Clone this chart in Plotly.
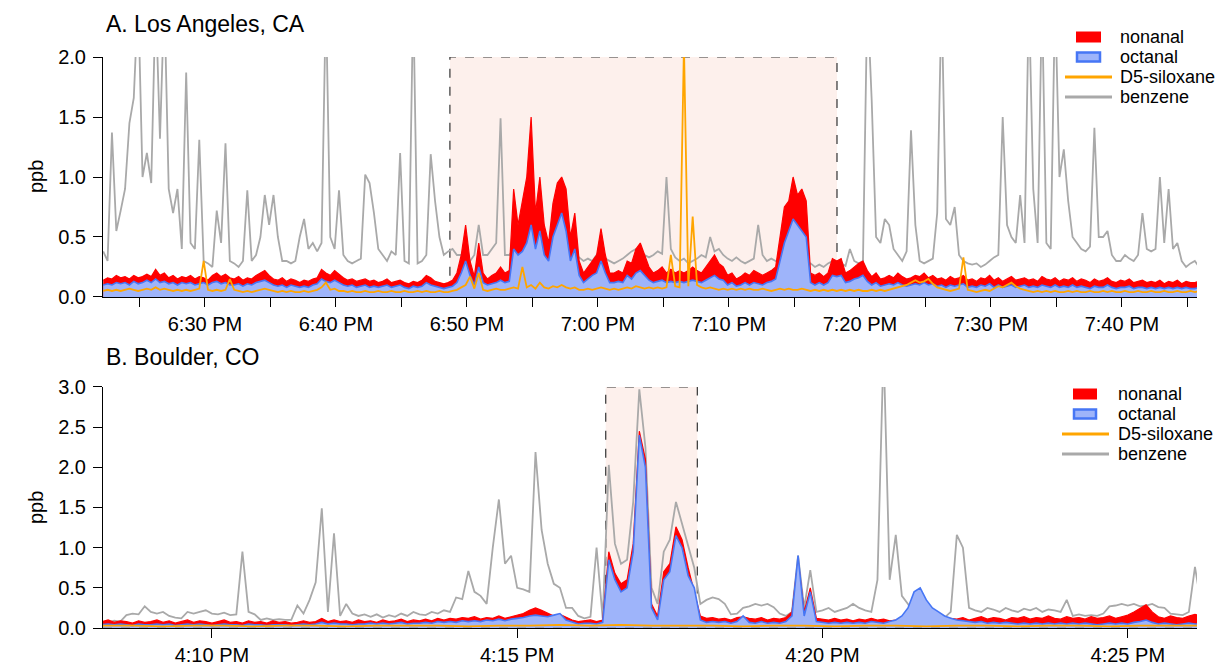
import pandas as pd
import plotly.graph_objects as go

# ---------------- Panel A : Los Angeles (20 s samples from 18:22:14) ----------------
a_start = "2019-06-01 18:22:14"
a_benzene = [
    0.38, 0.30, 1.37, 0.55, 0.72, 0.90, 1.45, 1.66, 2.50, 1.00,
    1.20, 0.95, 2.50, 1.32, 2.50, 0.90, 0.70, 0.90, 0.40, 1.87,
    0.45, 0.40, 1.31, 0.30, 0.28, 0.25, 0.72, 0.45, 1.28, 0.30,
    0.28, 0.25, 0.30, 0.89, 0.30, 0.35, 0.50, 0.85, 0.60, 0.85,
    0.50, 0.30, 0.30, 0.28, 0.30, 0.50, 0.65, 0.40, 0.45, 0.38,
    0.45, 2.50, 0.50, 0.40, 0.89, 0.35, 0.30, 0.28, 0.30, 0.32,
    1.02, 0.95, 0.70, 0.40, 0.35, 0.30, 0.38, 0.35, 1.20, 0.30,
    0.28, 2.50, 0.28, 0.30, 0.35, 1.19, 0.80, 0.50, 0.35, 0.38,
    0.40, 0.35, 0.35, 0.30, 0.30, 0.35, 0.60, 0.35, 0.35, 0.40,
    0.45, 1.49, 0.35, 0.35, 0.40, 0.40, 0.45, 0.40, 0.45, 0.40,
    0.42, 0.40, 0.38, 0.40, 0.45, 0.40, 0.38, 0.35, 0.35, 0.33,
    0.30, 0.32, 0.30, 0.35, 0.38, 0.32, 0.30, 0.28, 0.30, 0.32,
    0.35, 0.38, 0.40, 0.38, 0.35, 0.33, 0.35, 0.38, 0.36, 1.00,
    0.40, 0.33, 0.30, 0.32, 0.28, 0.30, 0.32, 0.35, 0.33, 0.50,
    0.38, 0.40, 0.35, 0.32, 0.30, 0.33, 0.30, 0.28, 0.30, 0.32,
    0.60, 0.35, 0.30, 0.32, 0.30, 0.28, 0.30, 0.32, 0.30, 0.28,
    0.27, 0.25, 0.28, 0.25, 0.27, 0.25, 0.28, 0.30, 0.27, 0.28,
    0.26, 0.40, 0.30, 0.28, 0.30, 2.50, 1.64, 0.50, 0.45, 0.65,
    0.60, 0.40, 0.35, 0.30, 0.38, 1.39, 0.60, 0.30, 0.28, 0.30,
    0.32, 0.70, 2.50, 0.65, 0.60, 0.75, 0.35, 0.30, 0.28, 0.27,
    0.28, 0.25, 0.27, 0.30, 0.33, 0.35, 1.50, 0.60, 0.50, 0.45,
    0.85, 0.45, 2.50, 0.90, 0.45, 2.50, 0.45, 0.40, 2.50, 1.00,
    1.23, 0.80, 0.50, 0.45, 0.40, 0.38, 0.42, 1.41, 0.50, 0.50,
    0.55, 0.35, 0.30, 0.30, 0.35, 0.32, 0.30, 0.35, 0.70, 0.40,
    0.38, 0.40, 1.00, 0.45, 0.90, 0.40, 0.45, 0.30, 0.25, 0.28,
    0.30, 0.25,
]
a_nonanal = [
    0.14, 0.16, 0.15, 0.18, 0.16, 0.17, 0.15, 0.18, 0.16, 0.17,
    0.19, 0.17, 0.23, 0.18, 0.20, 0.16, 0.18, 0.15, 0.17, 0.16,
    0.18, 0.15, 0.17, 0.16, 0.14, 0.18, 0.20, 0.17, 0.19, 0.16,
    0.15, 0.17, 0.14, 0.16, 0.15, 0.18, 0.20, 0.22, 0.18, 0.15,
    0.14, 0.16, 0.13, 0.15, 0.14, 0.12, 0.14, 0.13, 0.15, 0.16,
    0.23, 0.20, 0.18, 0.22, 0.19, 0.16, 0.14, 0.15, 0.13, 0.14,
    0.15, 0.13, 0.14, 0.12, 0.13, 0.15, 0.12, 0.13, 0.14, 0.12,
    0.11, 0.13, 0.12, 0.14, 0.18, 0.16, 0.13, 0.12, 0.11, 0.12,
    0.14, 0.20, 0.35, 0.60, 0.30, 0.17, 0.45, 0.20, 0.15, 0.18,
    0.20, 0.25, 0.20, 0.22, 0.90, 0.60, 0.80, 1.00, 1.50, 0.70,
    1.00, 0.60, 0.45, 0.78, 0.95, 1.00, 0.90, 0.50, 0.70, 0.30,
    0.20, 0.25, 0.30, 0.35, 0.57, 0.35, 0.20, 0.20, 0.22, 0.20,
    0.30, 0.28, 0.40, 0.45, 0.35, 0.25, 0.20, 0.22, 0.25, 0.20,
    0.23, 0.20, 0.22, 0.20, 0.22, 0.25, 0.22, 0.20, 0.25, 0.30,
    0.35, 0.28, 0.25, 0.18, 0.20, 0.15, 0.17, 0.20, 0.18, 0.22,
    0.20, 0.18, 0.20, 0.22, 0.25, 0.50, 0.75, 0.80, 1.00, 0.85,
    0.90, 0.80, 0.20, 0.18, 0.20, 0.17, 0.20, 0.32, 0.30, 0.32,
    0.20, 0.22, 0.25, 0.28, 0.30, 0.22, 0.17, 0.20, 0.15, 0.16,
    0.18, 0.16, 0.20, 0.17, 0.15, 0.16, 0.18, 0.17, 0.20, 0.16,
    0.18, 0.15, 0.16, 0.14, 0.17, 0.15, 0.16, 0.18, 0.14, 0.15,
    0.13, 0.16, 0.15, 0.18, 0.14, 0.16, 0.13, 0.15, 0.17, 0.14,
    0.15, 0.16, 0.14, 0.15, 0.13, 0.17, 0.15, 0.14, 0.16, 0.13,
    0.15, 0.14, 0.16, 0.13, 0.15, 0.14, 0.12, 0.15, 0.13, 0.14,
    0.16, 0.13, 0.12, 0.14, 0.13, 0.15, 0.12, 0.13, 0.14, 0.12,
    0.13, 0.12, 0.14, 0.11, 0.13, 0.12, 0.14, 0.11, 0.13, 0.12,
    0.12, 0.13,
]
a_octanal = [
    0.10, 0.11, 0.10, 0.12, 0.11, 0.12, 0.10, 0.13, 0.11, 0.12,
    0.14, 0.12, 0.15, 0.12, 0.13, 0.11, 0.12, 0.10, 0.12, 0.11,
    0.12, 0.10, 0.11, 0.12, 0.10, 0.12, 0.13, 0.11, 0.12, 0.10,
    0.10, 0.11, 0.09, 0.11, 0.10, 0.12, 0.13, 0.14, 0.12, 0.10,
    0.09, 0.10, 0.08, 0.10, 0.09, 0.08, 0.09, 0.08, 0.10, 0.11,
    0.15, 0.13, 0.12, 0.14, 0.12, 0.10, 0.09, 0.10, 0.08, 0.09,
    0.10, 0.08, 0.09, 0.08, 0.09, 0.10, 0.08, 0.09, 0.10, 0.08,
    0.07, 0.09, 0.08, 0.09, 0.12, 0.10, 0.09, 0.08, 0.07, 0.08,
    0.09, 0.12, 0.20, 0.30, 0.18, 0.10, 0.25, 0.12, 0.10, 0.11,
    0.12, 0.14, 0.12, 0.13, 0.40, 0.35, 0.38, 0.45, 0.60, 0.40,
    0.55, 0.35, 0.30, 0.50, 0.60, 0.70, 0.55, 0.30, 0.40, 0.18,
    0.12, 0.15, 0.18, 0.20, 0.30, 0.20, 0.12, 0.12, 0.13, 0.12,
    0.18, 0.15, 0.20, 0.22, 0.18, 0.14, 0.12, 0.13, 0.14, 0.12,
    0.13, 0.12, 0.13, 0.12, 0.13, 0.14, 0.13, 0.12, 0.14, 0.16,
    0.18, 0.15, 0.14, 0.10, 0.12, 0.09, 0.10, 0.12, 0.10, 0.12,
    0.11, 0.10, 0.12, 0.13, 0.15, 0.30, 0.45, 0.55, 0.65, 0.60,
    0.55, 0.50, 0.12, 0.10, 0.12, 0.10, 0.12, 0.18, 0.17, 0.18,
    0.12, 0.13, 0.15, 0.16, 0.18, 0.13, 0.10, 0.12, 0.09, 0.10,
    0.11, 0.10, 0.12, 0.10, 0.09, 0.10, 0.11, 0.10, 0.12, 0.10,
    0.11, 0.09, 0.10, 0.08, 0.10, 0.09, 0.10, 0.11, 0.08, 0.09,
    0.08, 0.10, 0.09, 0.11, 0.08, 0.10, 0.08, 0.09, 0.10, 0.08,
    0.09, 0.10, 0.08, 0.09, 0.08, 0.10, 0.09, 0.08, 0.10, 0.08,
    0.09, 0.08, 0.10, 0.08, 0.09, 0.08, 0.07, 0.09, 0.08, 0.08,
    0.10, 0.08, 0.07, 0.08, 0.08, 0.09, 0.07, 0.08, 0.08, 0.07,
    0.08, 0.07, 0.08, 0.07, 0.08, 0.07, 0.08, 0.07, 0.08, 0.07,
    0.07, 0.08,
]
a_siloxane = [
    0.05, 0.06, 0.05, 0.06, 0.05, 0.06, 0.07, 0.06, 0.05, 0.06,
    0.07, 0.06, 0.08, 0.06, 0.07, 0.06, 0.05, 0.06, 0.05, 0.06,
    0.05, 0.06, 0.07, 0.30, 0.06, 0.05, 0.06, 0.05, 0.06, 0.15,
    0.06, 0.05, 0.04, 0.05, 0.04, 0.05, 0.06, 0.07, 0.06, 0.05,
    0.04, 0.05, 0.04, 0.05, 0.04, 0.04, 0.05, 0.04, 0.05, 0.06,
    0.08, 0.12, 0.06, 0.07, 0.05, 0.05, 0.04, 0.05, 0.04, 0.04,
    0.05, 0.04, 0.04, 0.05, 0.04, 0.04, 0.05, 0.04, 0.04, 0.05,
    0.04, 0.04, 0.05, 0.04, 0.05, 0.04, 0.04, 0.05, 0.04, 0.04,
    0.05, 0.06, 0.08, 0.10, 0.17, 0.07, 0.20, 0.06, 0.05, 0.06,
    0.07, 0.06, 0.06, 0.07, 0.08, 0.07, 0.25, 0.08, 0.10, 0.07,
    0.12, 0.08, 0.07, 0.09, 0.08, 0.10, 0.08, 0.07, 0.08, 0.06,
    0.06, 0.07, 0.06, 0.07, 0.08, 0.07, 0.06, 0.07, 0.06, 0.07,
    0.08, 0.07, 0.09, 0.08, 0.07, 0.08, 0.07, 0.08, 0.07, 0.08,
    0.35, 0.09, 0.08, 2.10, 0.09, 0.67, 0.10, 0.08, 0.07, 0.08,
    0.07, 0.06, 0.07, 0.06, 0.07, 0.06, 0.07, 0.06, 0.07, 0.06,
    0.06, 0.07, 0.06, 0.05, 0.06, 0.07, 0.06, 0.07, 0.06, 0.06,
    0.07, 0.06, 0.05, 0.06, 0.05, 0.06, 0.05, 0.06, 0.05, 0.06,
    0.05, 0.06, 0.05, 0.06, 0.05, 0.05, 0.06, 0.05, 0.06, 0.05,
    0.06, 0.07, 0.08, 0.09, 0.10, 0.12, 0.14, 0.12, 0.13, 0.15,
    0.11, 0.08, 0.07, 0.06, 0.05, 0.06, 0.07, 0.33, 0.06, 0.05,
    0.04, 0.05, 0.06, 0.05, 0.07, 0.09, 0.08, 0.10, 0.12, 0.09,
    0.07, 0.06, 0.05, 0.04, 0.05, 0.04, 0.05, 0.04, 0.05, 0.04,
    0.04, 0.05, 0.04, 0.05, 0.04, 0.04, 0.05, 0.04, 0.04, 0.05,
    0.04, 0.05, 0.04, 0.04, 0.05, 0.04, 0.04, 0.05, 0.04, 0.04,
    0.05, 0.04, 0.04, 0.05, 0.04, 0.04, 0.05, 0.04, 0.04, 0.05,
    0.04, 0.05,
]

# ---------------- Panel B : Boulder (6 s samples from 16:08:12) ----------------
b_start = "2019-06-01 16:08:12"
b_benzene = [
    0.08, 0.07, 0.09, 0.08, 0.16, 0.18, 0.17, 0.27, 0.20, 0.18,
    0.20, 0.15, 0.13, 0.12, 0.20, 0.18, 0.20, 0.22, 0.18, 0.17,
    0.19, 0.16, 0.17, 0.95, 0.20, 0.17, 0.10, 0.12, 0.10, 0.11,
    0.10, 0.10, 0.28, 0.18, 0.35, 0.57, 1.49, 0.20, 1.18, 0.15,
    0.30, 0.18, 0.15, 0.17, 0.14, 0.17, 0.13, 0.16, 0.14, 0.18,
    0.15, 0.20, 0.17, 0.16, 0.20, 0.18, 0.22, 0.20, 0.38, 0.36,
    0.71, 0.45, 0.40, 0.30, 1.00, 1.60, 0.80, 0.90, 0.50, 0.48,
    0.45, 2.19, 1.22, 0.80, 0.55, 0.50, 0.25, 0.25, 0.15, 0.12,
    0.14, 1.00, 0.12, 2.03, 1.05, 0.80, 0.85, 1.57, 2.97, 2.25,
    0.50, 0.30, 0.95, 1.10, 1.57, 1.30, 1.00, 0.75, 0.30, 0.35,
    0.38, 0.36, 0.30, 0.17, 0.18, 0.25, 0.27, 0.30, 0.28, 0.30,
    0.26, 0.18, 0.15, 0.20, 0.90, 0.25, 0.72, 0.20, 0.22, 0.25,
    0.20, 0.23, 0.25, 0.30, 0.25, 0.22, 0.20, 0.60, 3.50, 0.60,
    1.16, 0.40, 0.30, 0.15, 0.13, 0.14, 0.12, 0.15, 0.13, 0.20,
    1.16, 1.00, 0.25, 0.22, 0.20, 0.25, 0.23, 0.20, 0.25, 0.22,
    0.20, 0.24, 0.22, 0.25, 0.20, 0.23, 0.22, 0.20, 0.35, 0.15,
    0.17, 0.15, 0.16, 0.15, 0.18, 0.27, 0.28, 0.30, 0.28, 0.30,
    0.27, 0.28, 0.30, 0.26, 0.25, 0.18, 0.17, 0.16, 0.20, 0.76,
    0.30,
]
b_nonanal = [
    0.08, 0.10, 0.07, 0.09, 0.08, 0.06, 0.09, 0.07, 0.08, 0.10,
    0.07, 0.09, 0.06, 0.08, 0.10, 0.07, 0.09, 0.08, 0.06, 0.08,
    0.10, 0.07, 0.08, 0.06, 0.09, 0.07, 0.08, 0.06, 0.09, 0.07,
    0.08, 0.06, 0.07, 0.09, 0.07, 0.08, 0.12, 0.08, 0.10, 0.08,
    0.09, 0.07, 0.10, 0.08, 0.09, 0.07, 0.10, 0.08, 0.09, 0.11,
    0.08, 0.10, 0.09, 0.11, 0.09, 0.12, 0.10, 0.12, 0.11, 0.13,
    0.12, 0.14, 0.11, 0.13, 0.12, 0.15, 0.12, 0.14, 0.16, 0.18,
    0.22, 0.25, 0.22, 0.18, 0.15, 0.17, 0.13, 0.10, 0.08, 0.09,
    0.10, 0.08, 0.10, 0.95, 0.68, 0.55, 0.60, 1.05, 2.45, 2.10,
    0.30, 0.15, 0.70, 0.80, 1.26, 1.10, 0.75, 0.45, 0.15, 0.12,
    0.13, 0.11, 0.12, 0.10, 0.13, 0.14, 0.12, 0.11, 0.13, 0.10,
    0.12, 0.11, 0.13, 0.20, 0.85, 0.20, 0.50, 0.12, 0.11, 0.10,
    0.12, 0.10, 0.11, 0.09, 0.11, 0.10, 0.12, 0.10, 0.11, 0.09,
    0.10, 0.11, 0.10, 0.12, 0.11, 0.10, 0.12, 0.11, 0.10, 0.12,
    0.11, 0.13, 0.10, 0.12, 0.14, 0.11, 0.13, 0.12, 0.10, 0.13,
    0.12, 0.14, 0.11, 0.13, 0.12, 0.15, 0.12, 0.11, 0.14, 0.12,
    0.13, 0.11, 0.14, 0.12, 0.13, 0.15, 0.12, 0.14, 0.16, 0.20,
    0.25, 0.29, 0.20, 0.14, 0.12, 0.15, 0.13, 0.12, 0.15, 0.17,
    0.15,
]
b_octanal = [
    0.04, 0.05, 0.04, 0.05, 0.04, 0.03, 0.05, 0.04, 0.04, 0.05,
    0.04, 0.05, 0.03, 0.04, 0.05, 0.04, 0.05, 0.04, 0.03, 0.04,
    0.05, 0.04, 0.04, 0.03, 0.05, 0.04, 0.04, 0.03, 0.04, 0.04,
    0.04, 0.03, 0.04, 0.05, 0.04, 0.05, 0.07, 0.05, 0.06, 0.05,
    0.05, 0.04, 0.05, 0.05, 0.06, 0.05, 0.06, 0.05, 0.06, 0.07,
    0.05, 0.06, 0.06, 0.07, 0.06, 0.08, 0.07, 0.08, 0.07, 0.09,
    0.08, 0.09, 0.08, 0.10, 0.09, 0.11, 0.09, 0.11, 0.12, 0.13,
    0.15, 0.16, 0.15, 0.14, 0.16, 0.18, 0.10, 0.07, 0.05, 0.06,
    0.06, 0.05, 0.07, 0.85, 0.60, 0.45, 0.50, 0.95, 2.40, 2.00,
    0.25, 0.10, 0.60, 0.70, 1.15, 1.00, 0.65, 0.50, 0.10, 0.07,
    0.08, 0.07, 0.08, 0.06, 0.08, 0.15, 0.07, 0.06, 0.08, 0.06,
    0.07, 0.06, 0.08, 0.15, 0.90, 0.15, 0.45, 0.08, 0.07, 0.06,
    0.07, 0.06, 0.07, 0.06, 0.07, 0.06, 0.08, 0.07, 0.06, 0.08,
    0.10, 0.15, 0.25, 0.45, 0.50, 0.35, 0.25, 0.20, 0.15, 0.12,
    0.10, 0.09, 0.08, 0.07, 0.08, 0.06, 0.07, 0.06, 0.07, 0.06,
    0.05, 0.06, 0.05, 0.06, 0.05, 0.06, 0.05, 0.06, 0.05, 0.06,
    0.05, 0.06, 0.05, 0.04, 0.05, 0.06, 0.05, 0.06, 0.05, 0.07,
    0.08, 0.10, 0.07, 0.05, 0.06, 0.05, 0.04, 0.05, 0.06, 0.05,
    0.05,
]
# siloxane in Boulder sampled every 30 s
b_siloxane = [
    0.03, 0.03, 0.02, 0.03, 0.03, 0.02, 0.03, 0.03, 0.02, 0.03,
    0.03, 0.03, 0.02, 0.03, 0.03, 0.04, 0.03, 0.04, 0.03, 0.03,
    0.03, 0.02, 0.03, 0.03, 0.02, 0.03, 0.03, 0.02, 0.03, 0.03,
    0.02, 0.03, 0.03, 0.02, 0.03, 0.03, 0.03,
]

# ---------------- axes, ticks, highlighted windows ----------------
a_range = ["2019-06-01 18:22:13", "2019-06-01 19:45:44"]
b_range = ["2019-06-01 16:08:13", "2019-06-01 16:26:08"]
a_tickvals = ["2019-06-01 18:%02d:00" % m for m in range(25, 60, 5)] + \
             ["2019-06-01 19:%02d:00" % m for m in range(0, 50, 5)]
a_ticktext = ["", "6:30 PM", "", "6:40 PM", "", "6:50 PM", "",
              "7:00 PM", "", "7:10 PM", "", "7:20 PM", "", "7:30 PM", "", "7:40 PM", ""]
b_tickvals = ["2019-06-01 16:10:00", "2019-06-01 16:15:00",
              "2019-06-01 16:20:00", "2019-06-01 16:25:00"]
b_ticktext = ["4:10 PM", "4:15 PM", "4:20 PM", "4:25 PM"]
a_window = ["2019-06-01 18:48:42", "2019-06-01 19:18:15"]
b_window = ["2019-06-01 16:16:27", "2019-06-01 16:17:57"]
series_names = ["nonanal", "octanal", "D5-siloxane", "benzene"]

ta = pd.date_range(a_start, periods=len(a_benzene), freq="20s")
tb = pd.date_range(b_start, periods=len(b_benzene), freq="6s")
tbs = pd.date_range(b_start, periods=len(b_siloxane), freq="30s")

RED = "#ff0000"
BLUE_LINE = "rgb(70,118,245)"
BLUE_FILL = "rgb(158,180,250)"
ORANGE = "#ffa500"
GREY = "#a9a9a9"
FONT = "Liberation Sans, Arial, sans-serif"

# plot area in page pixels
PX0, PX1, PY0, PY1 = 103.0, 1197.0, 57.0, 628.0


def px(xp):
    return (xp - PX0) / (PX1 - PX0)


def py(yp):
    return (PY1 - yp) / (PY1 - PY0)


fig = go.Figure()


def add_panel(t, ts, benz, non, octa, silo, xa, ya):
    fig.add_trace(go.Scatter(x=t, y=benz, mode="lines", name=series_names[3],
                             line=dict(color=GREY, width=1.8), xaxis=xa, yaxis=ya))
    fig.add_trace(go.Scatter(x=t, y=non, mode="lines", name=series_names[0], fill="tozeroy",
                             fillcolor=RED, line=dict(color=RED, width=1.2),
                             xaxis=xa, yaxis=ya))
    fig.add_trace(go.Scatter(x=t, y=octa, mode="lines", name=series_names[1], fill="tozeroy",
                             fillcolor=BLUE_FILL, line=dict(color=BLUE_LINE, width=1.6),
                             xaxis=xa, yaxis=ya))
    fig.add_trace(go.Scatter(x=ts, y=silo, mode="lines", name=series_names[2],
                             line=dict(color=ORANGE, width=1.8), xaxis=xa, yaxis=ya))


add_panel(ta, ta, a_benzene, a_nonanal, a_octanal, a_siloxane, "x", "y")
add_panel(tb, tbs, b_benzene, b_nonanal, b_octanal, b_siloxane, "x2", "y2")

# highlighted windows
fig.add_shape(type="rect", xref="x", yref="y", x0=a_window[0], x1=a_window[1], y0=0, y1=2.0,
              fillcolor="rgb(253,240,236)", line=dict(color="#333333", width=1.2, dash="dash"),
              layer="below")
fig.add_shape(type="rect", xref="x2", yref="y2", x0=b_window[0], x1=b_window[1], y0=0, y1=3.0,
              fillcolor="rgb(253,240,236)", line=dict(color="#333333", width=1.2, dash="dash"),
              layer="below")
fig.add_shape(type="line", xref="x2 domain", yref="y2", x0=0, x1=1, y0=0, y1=0,
              line=dict(color="#888888", width=1.2, dash="dash"), layer="above")


# hand-placed legends (symbol geometry in page pixels)
def add_legend(sym_left, sym_right, rect_left, rect_right, text_x, rows):
    ys = rows
    fig.add_shape(type="rect", xref="paper", yref="paper",
                  x0=px(rect_left), x1=px(rect_right), y0=py(ys[0] + 5.5), y1=py(ys[0] - 5.5),
                  fillcolor=RED, line=dict(width=0))
    fig.add_shape(type="rect", xref="paper", yref="paper",
                  x0=px(rect_left + 1), x1=px(rect_right - 1), y0=py(ys[1] + 4.5), y1=py(ys[1] - 4.5),
                  fillcolor=BLUE_FILL, line=dict(color=BLUE_LINE, width=2.5))
    fig.add_shape(type="line", xref="paper", yref="paper",
                  x0=px(sym_left), x1=px(sym_right), y0=py(ys[2]), y1=py(ys[2]),
                  line=dict(color=ORANGE, width=3))
    fig.add_shape(type="line", xref="paper", yref="paper",
                  x0=px(sym_left), x1=px(sym_right), y0=py(ys[3]), y1=py(ys[3]),
                  line=dict(color=GREY, width=3))
    for name, yy in zip(series_names, ys):
        fig.add_annotation(text=name, xref="paper", yref="paper", x=px(text_x), y=py(yy),
                           xanchor="left", yanchor="middle", showarrow=False,
                           font=dict(family=FONT, size=18, color="black"))


add_legend(1065, 1112, 1076, 1101, 1118, [37, 57, 77, 97])
add_legend(1062, 1109, 1073, 1097, 1116, [394, 414, 434, 454])

axis_common = dict(showline=True, linecolor="black", linewidth=1, ticks="outside",
                   ticklen=9, tickwidth=1, tickcolor="black", showgrid=False, zeroline=False,
                   automargin=False,
                   tickfont=dict(family=FONT, size=20, color="black"))

fig.update_layout(
    width=1216, height=672,
    margin=dict(l=103, r=19, t=57, b=44, autoexpand=False),
    plot_bgcolor="white", paper_bgcolor="white",
    font=dict(family=FONT, color="black"),
    showlegend=False,
    xaxis=dict(domain=[0, 1], anchor="y", type="date", range=a_range,
               tickmode="array", tickvals=a_tickvals, ticktext=a_ticktext, **axis_common),
    yaxis=dict(domain=[0.5797, 1], anchor="x", range=[0, 2.0], tickvals=[0, 0.5, 1.0, 1.5, 2.0],
               ticktext=["0.0", "0.5", "1.0", "1.5", "2.0"], ticklabelstandoff=3, **axis_common),
    xaxis2=dict(domain=[0, 1], anchor="y2", type="date", range=b_range,
                tickmode="array", tickvals=b_tickvals, ticktext=b_ticktext, **axis_common),
    yaxis2=dict(domain=[0, 0.4221], anchor="x2", range=[0, 3.0],
                tickvals=[0, 0.5, 1.0, 1.5, 2.0, 2.5, 3.0],
                ticktext=["0.0", "0.5", "1.0", "1.5", "2.0", "2.5", "3.0"],
                ticklabelstandoff=3, **axis_common),
)

fig.add_annotation(text="A. Los Angeles, CA", xref="paper", yref="paper", x=px(104), y=py(24),
                   xanchor="left", yanchor="middle", showarrow=False,
                   font=dict(family=FONT, size=23, color="black"))
fig.add_annotation(text="B. Boulder, CO", xref="paper", yref="paper", x=px(104), y=py(357),
                   xanchor="left", yanchor="middle", showarrow=False,
                   font=dict(family=FONT, size=23, color="black"))
fig.add_annotation(text="ppb", xref="paper", yref="paper", x=px(36), y=py(177),
                   xanchor="center", yanchor="middle", textangle=-90, showarrow=False,
                   font=dict(family=FONT, size=20, color="black"))
fig.add_annotation(text="ppb", xref="paper", yref="paper", x=px(36), y=py(508),
                   xanchor="center", yanchor="middle", textangle=-90, showarrow=False,
                   font=dict(family=FONT, size=20, color="black"))

fig.write_html(
    "out.html",
    config={"displayModeBar": False},
    post_script="document.body.style.margin='0px';document.body.style.overflow='hidden';",
)
